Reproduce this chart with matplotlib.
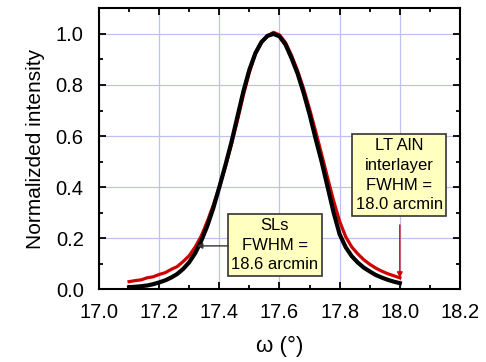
import matplotlib
matplotlib.use("Agg")
import matplotlib.pyplot as plt
from matplotlib.ticker import MultipleLocator

plt.rcParams['font.family'] = ['Liberation Sans', 'DejaVu Sans']

# omega (deg)
omega = [17.10, 17.12, 17.14, 17.16, 17.18, 17.20, 17.22, 17.24, 17.26, 17.28,
         17.30, 17.32, 17.34, 17.36, 17.38, 17.40, 17.42, 17.44, 17.46, 17.48,
         17.50, 17.52, 17.54, 17.56, 17.58, 17.60, 17.62, 17.64, 17.66, 17.68,
         17.70, 17.72, 17.74, 17.76, 17.78, 17.80, 17.82, 17.84, 17.86, 17.88,
         17.90, 17.92, 17.94, 17.96, 17.98, 18.00]

# SLs (black)
sls = [0.008, 0.010, 0.012, 0.015, 0.020, 0.027, 0.035, 0.046, 0.060, 0.080,
       0.106, 0.142, 0.190, 0.248, 0.318, 0.400, 0.485, 0.575, 0.675, 0.775,
       0.860, 0.925, 0.968, 0.992, 1.000, 0.990, 0.958, 0.905, 0.845, 0.770,
       0.685, 0.590, 0.500, 0.400, 0.300, 0.215, 0.165, 0.130, 0.105, 0.085,
       0.070, 0.056, 0.046, 0.037, 0.030, 0.024]

# LT AlN interlayer (red)
lt_aln = [0.030, 0.034, 0.037, 0.045, 0.049, 0.058, 0.065, 0.078, 0.089, 0.109,
          0.132, 0.166, 0.209, 0.266, 0.330, 0.401, 0.480, 0.566, 0.660, 0.761,
          0.850, 0.921, 0.966, 0.992, 1.006, 0.996, 0.966, 0.916, 0.856, 0.786,
          0.706, 0.619, 0.529, 0.436, 0.346, 0.266, 0.206, 0.166, 0.139, 0.116,
          0.098, 0.083, 0.071, 0.061, 0.053, 0.045]

x_ticks = [17.0, 17.2, 17.4, 17.6, 17.8, 18.0, 18.2]
y_ticks = [0.0, 0.2, 0.4, 0.6, 0.8, 1.0]

fig = plt.figure(figsize=(4.86, 3.62), dpi=100)
ax = fig.add_axes([0.2037, 0.2008, 0.7428, 0.7762])

ax.plot(omega, lt_aln, color='#d00000', lw=2.3, zorder=3)
ax.plot(omega, sls, color='black', lw=3.0, zorder=4)

ax.set_xlim(17.0, 18.2)
ax.set_ylim(0.0, 1.1)
ax.set_xticks(x_ticks)
ax.set_yticks(y_ticks)
ax.set_xticklabels([f"{v:.1f}" for v in x_ticks])
ax.set_yticklabels([f"{v:.1f}" for v in y_ticks])
ax.xaxis.set_minor_locator(MultipleLocator(0.1))
ax.yaxis.set_minor_locator(MultipleLocator(0.1))
ax.tick_params(which='both', direction='in', top=True, right=True, width=1.3)
ax.tick_params(which='major', length=5, labelsize=14.5)
ax.tick_params(axis='x', which='major', pad=10)
ax.tick_params(axis='y', which='major', pad=11)
ax.tick_params(which='minor', length=3)
ax.grid(True, which='major', color='#c0c0f0', lw=0.9)
ax.set_axisbelow(True)
for s in ax.spines.values():
    s.set_linewidth(1.5)

ax.set_xlabel('ω (°)', fontsize=16, labelpad=10)
ax.set_ylabel('Normalizded intensity', fontsize=15, labelpad=8)

box = dict(boxstyle='square,pad=0.22', fc='#ffffc0', ec='#333333', lw=1.2)
ax.text(17.585, 0.173, 'SLs\nFWHM =\n18.6 arcmin', ha='center', va='center',
        fontsize=12, linespacing=1.4, bbox=box, zorder=5)
ax.text(17.998, 0.447, 'LT AlN\ninterlayer\nFWHM =\n18.0 arcmin', ha='center',
        va='center', fontsize=12, linespacing=1.4, bbox=box, zorder=5)

ax.annotate('', xy=(17.325, 0.17), xytext=(17.428, 0.17),
            arrowprops=dict(arrowstyle='-|>', color='#333333', lw=1.0,
                            mutation_scale=8, shrinkA=0, shrinkB=0), zorder=6)
ax.annotate('', xy=(18.0, 0.045), xytext=(18.0, 0.252),
            arrowprops=dict(arrowstyle='-|>', color='#d00000', lw=1.0,
                            mutation_scale=8, shrinkA=0, shrinkB=0), zorder=6)

fig.savefig('out.png', dpi=100)
